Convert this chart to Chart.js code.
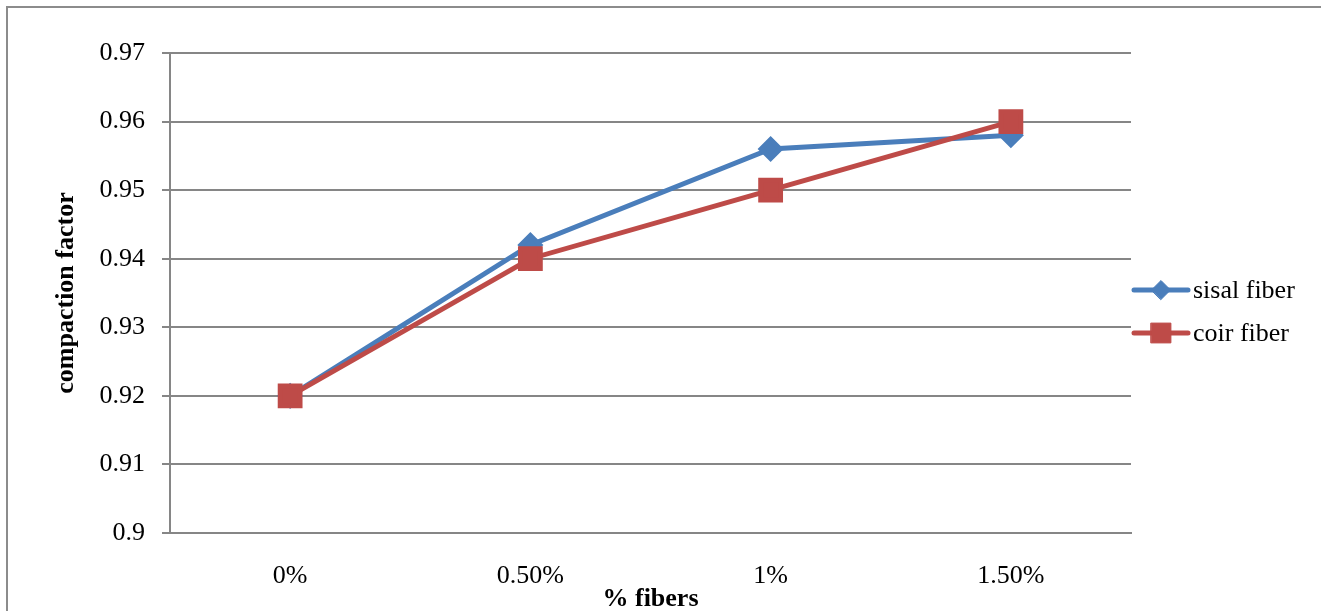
<!DOCTYPE html>
<html>
<head>
<meta charset="utf-8">
<script src="https://cdn.jsdelivr.net/npm/chart.js@4.4.0/dist/chart.umd.min.js"></script>
<style>
    html, body { margin: 0; padding: 0; background: #fff; overflow: hidden; }
    #wrap { position: relative; width: 1321px; height: 611px; }
    #frame { position: absolute; left: 6px; top: 6px; width: 1400px; height: 700px; border: 2px solid #8c8c8c; box-sizing: border-box; }
    #chart { position: absolute; left: 0; top: 0; }
</style>
</head>
<body>
<div id="wrap">
    <div id="frame"></div>
    <canvas id="chart" width="1321" height="611"></canvas>
</div>
<script>
const categories = ['0%', '0.50%', '1%', '1.50%'];
const sisalFiber = [0.92, 0.942, 0.956, 0.958];
const coirFiber = [0.92, 0.94, 0.95, 0.96];
const seriesNames = ['sisal fiber', 'coir fiber'];
const yMin = 0.9, yMax = 0.97, yStep = 0.01;

const BLUE = '#4a7ebb';
const RED = '#be4b48';
const GRID = '#868686';
const FONT = "'Liberation Serif', 'Times New Roman', serif";

Chart.defaults.font.family = FONT;
Chart.defaults.font.size = 26;
Chart.defaults.color = '#000';

// legend drawn like Excel: short line with the marker on it
const lineLegend = {
    id: 'lineLegend',
    afterDraw(chart) {
        const ctx = chart.ctx;
        const x0 = chart.chartArea.right + 3;
        const rows = [290, 333];
        chart.data.datasets.forEach((ds, i) => {
            const y = rows[i];
            ctx.save();
            ctx.strokeStyle = ds.borderColor;
            ctx.lineWidth = ds.borderWidth;
            ctx.lineCap = 'round';
            ctx.beginPath();
            ctx.moveTo(x0, y);
            ctx.lineTo(x0 + 54, y);
            ctx.stroke();
            ctx.fillStyle = ds.pointBackgroundColor;
            ctx.strokeStyle = ds.pointBorderColor;
            ctx.lineWidth = 1;
            Chart.helpers.drawPoint(ctx, { pointStyle: ds.pointStyle, radius: ds.pointRadius, rotation: 0, borderWidth: 1 }, x0 + 27, y);
            ctx.fillStyle = '#000';
            ctx.font = '26px ' + FONT;
            ctx.textBaseline = 'middle';
            ctx.textAlign = 'left';
            ctx.fillText(ds.label, x0 + 59, y + 1);
            ctx.restore();
        });
    }
};

new Chart(document.getElementById('chart'), {
    type: 'line',
    data: {
        labels: categories,
        datasets: [{
            label: seriesNames[0],
            data: sisalFiber,
            borderColor: BLUE,
            backgroundColor: BLUE,
            borderWidth: 5,
            pointStyle: 'rectRot',
            pointRadius: 9.5,
            pointBackgroundColor: BLUE,
            pointBorderColor: BLUE,
            order: 1,
            tension: 0
        }, {
            label: seriesNames[1],
            data: coirFiber,
            borderColor: RED,
            backgroundColor: RED,
            borderWidth: 5,
            pointStyle: 'rect',
            pointRadius: 14,
            pointBackgroundColor: RED,
            pointBorderColor: RED,
            order: 0,
            tension: 0
        }]
    },
    options: {
        responsive: false,
        animation: false,
        layout: { padding: { left: 0, top: 53, right: 190, bottom: 0 } },
        plugins: {
            legend: { display: false },
            tooltip: { enabled: false }
        },
        scales: {
            x: {
                offset: true,
                grid: { display: false, drawTicks: false },
                border: { display: true, color: GRID, width: 2 },
                ticks: { padding: 28, font: { size: 26 } },
                title: { display: true, text: '% fibers', font: { size: 26, weight: 'bold' }, padding: { top: 0, bottom: -4 } },
                afterFit(scale) { scale.height = 78; }
            },
            y: {
                min: yMin,
                max: yMax,
                grid: { color: GRID, lineWidth: 2, tickLength: 8, drawTicks: true },
                border: { display: true, color: GRID, width: 2 },
                ticks: {
                    stepSize: yStep,
                    padding: 17,
                    font: { size: 26 },
                    callback: (v) => String(+v.toFixed(2))
                },
                title: { display: true, text: 'compaction factor', font: { size: 26, weight: 'bold' }, padding: { top: 51, bottom: 0 } },
                afterFit(scale) { scale.width = 170; }
            }
        }
    },
    plugins: [lineLegend]
});
</script>
</body>
</html>
